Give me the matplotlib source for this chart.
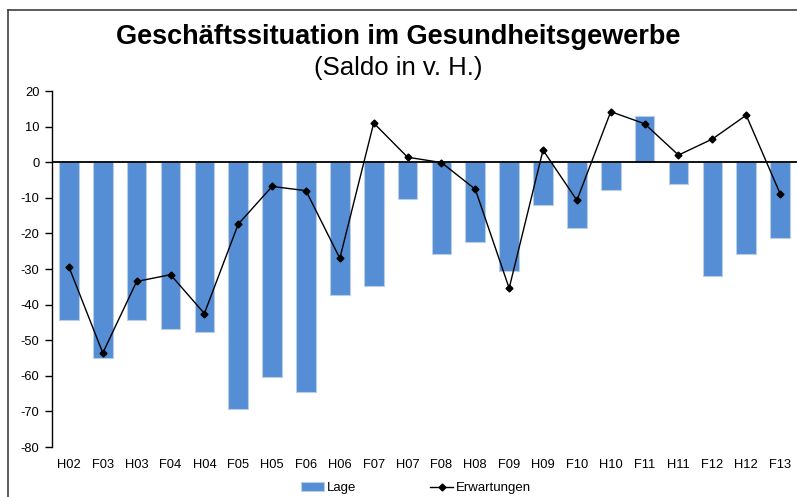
import matplotlib
matplotlib.use("Agg")
import matplotlib.pyplot as plt
from matplotlib.lines import Line2D

plt.rcParams['font.family'] = ['Liberation Sans', 'DejaVu Sans']
plt.rcParams['axes.unicode_minus'] = False

# Halbjahre (F = Frühjahr, H = Herbst)
periods = ['H02', 'F03', 'H03', 'F04', 'H04', 'F05', 'H05', 'F06', 'H06', 'F07',
           'H07', 'F08', 'H08', 'F09', 'H09', 'F10', 'H10', 'F11', 'H11', 'F12',
           'H12', 'F13']
lage = [-44.3, -55.0, -44.3, -46.9, -47.7, -69.3, -60.3, -64.5, -37.3, -34.8,
        -10.2, -25.9, -22.4, -30.5, -12.0, -18.4, -7.8, 13.0, -6.1, -32.0,
        -25.9, -21.3]
erwartungen = [-29.4, -53.6, -33.5, -31.6, -42.5, -17.4, -6.8, -8.0, -27.0, 11.0,
               1.4, -0.1, -7.6, -35.4, 3.4, -10.7, 14.2, 10.8, 2.0, 6.5,
               13.2, -8.8]

W, H = 797, 497
fig = plt.figure(figsize=(W / 100, H / 100), dpi=100)
ax = fig.add_axes([52 / W, 1 - 447 / H, 1 - 52 / W, (447 - 91) / H])

x = range(len(periods))
bars = ax.bar(x, lage, width=0.58, color='#558ED5', edgecolor='#B9CDE5',
              linewidth=0.8, label='Lage', zorder=2)
line, = ax.plot(x, erwartungen, color='black', linewidth=1, marker='D',
                markersize=3.5, label='Erwartungen', zorder=4)
ax.axhline(0, color='black', linewidth=1.3, zorder=3)

ax.set_xlim(-0.5, len(periods) - 0.5)
ax.set_ylim(-80, 20)
ax.set_yticks(range(-80, 21, 10))
ax.set_xticks(list(x))
ax.set_xticklabels(periods)
ax.tick_params(axis='x', length=0, pad=9, labelsize=9.3)
ax.tick_params(axis='y', direction='out', length=5, width=1, pad=4, labelsize=9.3,
               color='black')
for side in ['top', 'right', 'bottom']:
    ax.spines[side].set_visible(False)
ax.spines['left'].set_linewidth(1)

fig.text(0.5, 1 - 37 / H, 'Geschäftssituation im Gesundheitsgewerbe',
         ha='center', va='center', fontsize=19.5, fontweight='bold')
fig.text(0.5, 1 - 68 / H, '(Saldo in v. H.)', ha='center', va='center',
         fontsize=18.5)

fig.legend([bars, line], ['Lage', 'Erwartungen'], loc='center',
           bbox_to_anchor=(416 / W, 1 - 488 / H),
           ncol=2, frameon=False, fontsize=9.5, handlelength=1.75,
           handletextpad=0.2, columnspacing=5.6, borderaxespad=0)

# Rahmen
fig.add_artist(Line2D([8 / W, 8 / W], [0, 1 - 10 / H], transform=fig.transFigure,
                      color='#404040', linewidth=1.2))
fig.add_artist(Line2D([8 / W, 1], [1 - 10 / H, 1 - 10 / H], transform=fig.transFigure,
                      color='#404040', linewidth=1.2))

fig.savefig('out.png', dpi=100)
